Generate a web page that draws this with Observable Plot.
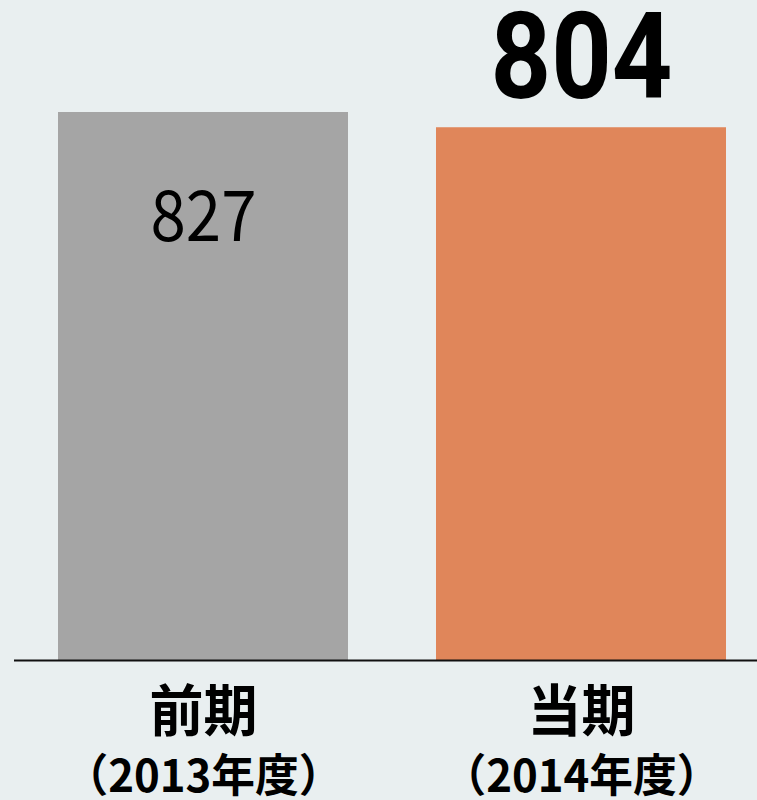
<!DOCTYPE html>
<html><head><meta charset="utf-8">
<script src="https://cdn.jsdelivr.net/npm/d3@7"></script>
<script src="https://cdn.jsdelivr.net/npm/@observablehq/plot@0.6"></script>
<style>
html,body{margin:0;padding:0;background:#e9eff0;}
#chart svg{display:block;background:#e9eff0;}
</style>
</head><body><div id="chart"></div>
<script>
const categories = ["前期", "当期"];
const years = ["（2013年度）", "（2014年度）"];
const values = [827, 804];
const colors = ["#a5a5a5", "#e0865a"];

const data = categories.map((c, i) => ({cat: c, year: years[i], value: values[i], color: colors[i]}));

const plot = Plot.plot({
  width: 757,
  height: 800,
  marginLeft: 14,
  marginRight: 0,
  marginTop: 112,
  marginBottom: 140,
  style: {background: "#e9eff0"},
  x: {domain: categories, range: [14, 770], paddingInner: 0.233, paddingOuter: 0.1165, axis: null},
  y: {domain: [0, d3.max(values)], axis: null},
  marks: [
    Plot.barY(data, {x: "cat", y: "value", fill: "color"}),
    Plot.ruleY([0], {stroke: "#111", strokeWidth: 2}),
    Plot.text(data.slice(0, 1), {x: "cat", y: "value", text: d => String(d.value), dy: 106,
      fontSize: 70, fontFamily: "Noto Sans CJK JP", fontWeight: 400, fill: "#000", lineAnchor: "middle",
      className: "v-prev"}),
    Plot.text(data.slice(1), {x: "cat", y: "value", text: d => String(d.value), dy: -68,
      fontSize: 120, fontFamily: "Roboto", fontWeight: 700, fill: "#000", lineAnchor: "middle",
      className: "v-cur"}),
    Plot.text(data, {x: "cat", frameAnchor: "bottom", text: "cat", dy: 53,
      fontSize: 56, fontFamily: "Noto Sans CJK JP", fontWeight: 700, fill: "#000", lineAnchor: "middle",
      className: "lbl-cat"}),
    Plot.text(data, {x: "cat", frameAnchor: "bottom", text: "year", dy: 117,
      fontSize: 45, fontFamily: "Noto Sans CJK JP", fontWeight: 700, fill: "#000", lineAnchor: "middle",
      className: "lbl-year"})
  ]
});
// condense glyphs horizontally to match the reference's narrow typeface
d3.select(plot).selectAll(".v-prev text").attr("textLength", 106).attr("lengthAdjust", "spacingAndGlyphs");
d3.select(plot).selectAll(".v-cur text").attr("textLength", 182).attr("lengthAdjust", "spacingAndGlyphs");
d3.select(plot).selectAll(".lbl-cat text").attr("textLength", 108).attr("lengthAdjust", "spacingAndGlyphs");
d3.select(plot).selectAll(".lbl-year text").attr("textLength", 278).attr("lengthAdjust", "spacingAndGlyphs");
document.getElementById("chart").appendChild(plot);
</script>
</body></html>
